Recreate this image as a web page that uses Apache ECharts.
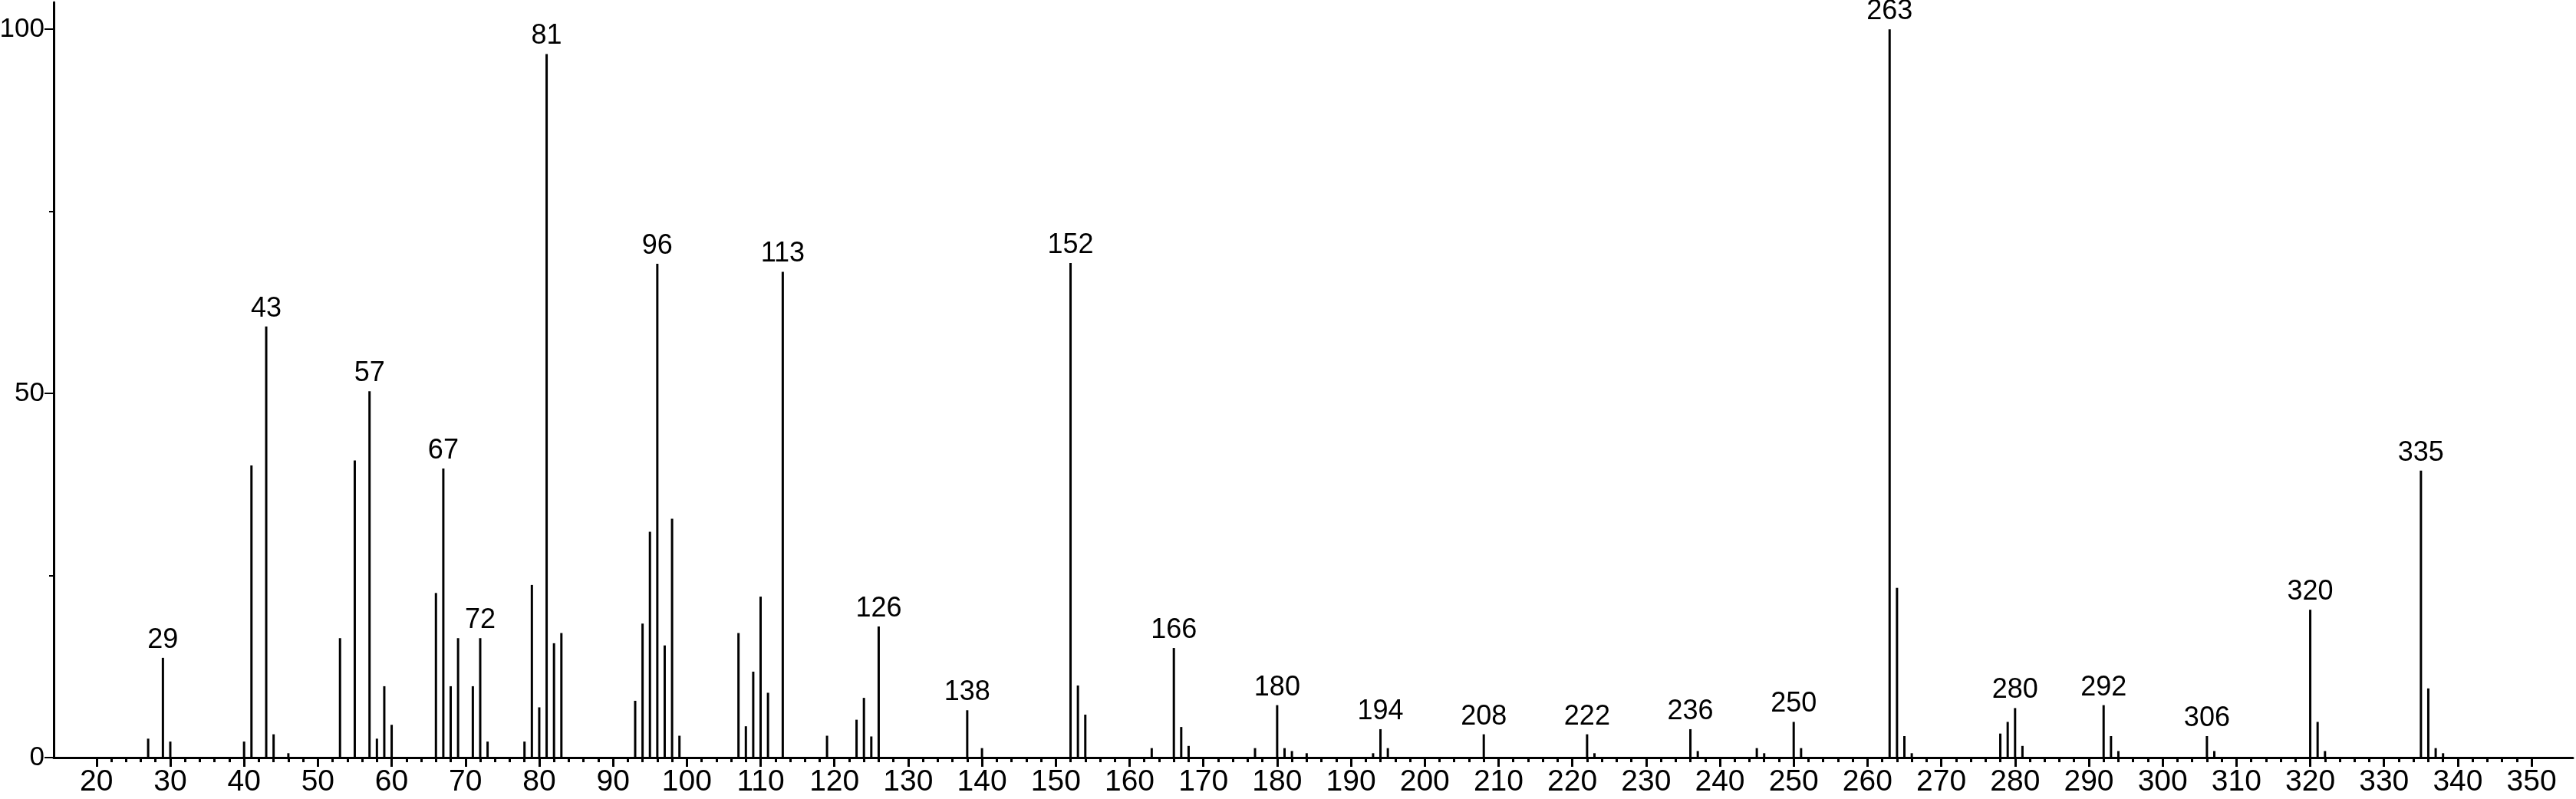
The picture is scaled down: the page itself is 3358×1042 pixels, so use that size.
<!DOCTYPE html>
<html>
<head>
<meta charset="utf-8">
<script src="https://cdn.jsdelivr.net/npm/echarts@6/dist/echarts.min.js"></script>
<style>html,body{margin:0;padding:0;background:#fff}#c{width:3358px;height:1042px}</style>
</head>
<body>
<div id="c"></div>
<script>
const mz = [27,29,30,40,41,43,44,46,53,55,57,58,59,60,66,67,68,69,71,72,73,78,79,80,81,82,83,93,94,95,96,97,98,99,107,108,109,110,111,113,119,123,124,125,126,138,140,152,153,154,163,166,167,168,177,180,181,182,184,193,194,195,208,222,223,236,237,245,246,250,251,263,264,265,266,278,279,280,281,292,293,294,306,307,320,321,322,335,336,337,338];
const intensity = [2.6,13.7,2.2,2.2,40.1,59.2,3.2,0.6,16.4,40.8,50.3,2.6,9.8,4.5,22.6,39.7,9.8,16.4,9.8,16.4,2.2,2.2,23.7,6.9,96.6,15.7,17.1,7.8,18.4,31.0,67.8,15.4,32.8,3.0,17.1,4.3,11.8,22.1,8.9,66.7,3.0,5.2,8.2,2.9,18.0,6.5,1.3,67.9,9.9,5.9,1.3,15.05,4.2,1.6,1.3,7.2,1.3,0.9,0.6,0.6,3.9,1.3,3.2,3.2,0.6,3.9,0.9,1.3,0.6,4.9,1.3,100,23.3,2.95,0.6,3.3,4.9,6.8,1.6,7.2,2.95,0.9,2.95,0.9,20.3,4.9,0.9,39.4,9.5,1.3,0.6];
const labeledPeaks = [29,43,57,67,72,81,96,113,126,138,152,166,180,194,208,222,236,250,263,280,292,306,320,335];
const xMajorTicks = [20,30,40,50,60,70,80,90,100,110,120,130,140,150,160,170,180,190,200,210,220,230,240,250,260,270,280,290,300,310,320,330,340,350];
const xMinorTicks = [];
for (let v = 22; v <= 348; v += 2) if (v % 10 !== 0) xMinorTicks.push(v);
const yMajorTicks = [0,50,100];
const yMinorTicks = [25,75];

const data = mz.map((m, i) => {
  const item = { value: [m, intensity[i]] };
  if (labeledPeaks.includes(m)) item.label = { show: true, formatter: String(m) };
  return item;
});

const chart = echarts.init(document.getElementById('c'));
const xMin = 14.2, xMax = 355.6, yMax = 103.7;
chart.setOption({
  animation: false,
  backgroundColor: '#fff',
  grid: { left: 70, right: 4, top: 3, bottom: 54, containLabel: false, outerBoundsMode: 'none' },
  xAxis: [
    { type: 'value', min: xMin, max: xMax, position: 'bottom',
      axisLine: { show: true, onZero: false, lineStyle: { color: '#000', width: 3 } },
      axisTick: { show: true, customValues: xMinorTicks, length: 6, lineStyle: { color: '#000', width: 3 } },
      axisLabel: { show: false }, splitLine: { show: false } },
    { type: 'value', min: xMin, max: xMax, position: 'bottom',
      axisLine: { show: false },
      axisTick: { show: true, customValues: xMajorTicks, length: 12, lineStyle: { color: '#000', width: 3 } },
      axisLabel: { show: true, customValues: xMajorTicks, margin: 13, color: '#000', fontSize: 39,
        fontFamily: '"Liberation Sans Narrow", "Arial Narrow", "Liberation Sans", Arial, sans-serif' },
      splitLine: { show: false } }
  ],
  yAxis: [
    { type: 'value', min: 0, max: yMax, position: 'left',
      axisLine: { show: true, onZero: false, lineStyle: { color: '#000', width: 3 } },
      axisTick: { show: true, customValues: yMinorTicks, length: 6, lineStyle: { color: '#000', width: 2 } },
      axisLabel: { show: false }, splitLine: { show: false } },
    { type: 'value', min: 0, max: yMax, position: 'left',
      axisLine: { show: false },
      axisTick: { show: true, customValues: yMajorTicks, length: 12, lineStyle: { color: '#000', width: 2 } },
      axisLabel: { show: true, customValues: yMajorTicks, margin: 12, color: '#000', fontSize: 35,
        fontFamily: '"Liberation Sans", Arial, sans-serif' },
      splitLine: { show: false } }
  ],
  series: [{
    type: 'bar', xAxisIndex: 0, yAxisIndex: 0, barWidth: 3,
    itemStyle: { color: '#000' },
    label: { show: false, position: 'top', distance: 5, color: '#000', fontSize: 36,
      fontFamily: '"Liberation Sans", Arial, sans-serif' },
    data: data
  }]
});
</script>
</body>
</html>
